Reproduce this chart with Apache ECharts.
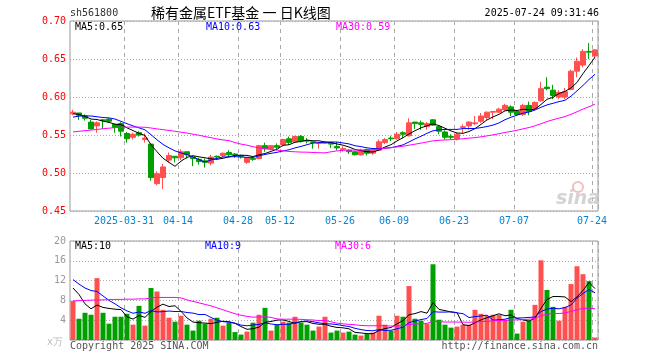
<!DOCTYPE html>
<html><head><meta charset="utf-8">
<script src="https://cdn.jsdelivr.net/npm/echarts@6/dist/echarts.min.js"></script>
<style>html,body{margin:0;padding:0;background:#fff}#c{width:660px;height:360px}</style>
</head><body><div id="c"></div>
<script>
const dates = [
'2025-03-18','2025-03-19','2025-03-20','2025-03-21','2025-03-24','2025-03-25','2025-03-26','2025-03-27','2025-03-28','2025-03-31',
'2025-04-01','2025-04-02','2025-04-03','2025-04-07','2025-04-08','2025-04-09','2025-04-10','2025-04-11','2025-04-14','2025-04-15',
'2025-04-16','2025-04-17','2025-04-18','2025-04-21','2025-04-22','2025-04-23','2025-04-24','2025-04-25','2025-04-28','2025-04-29',
'2025-04-30','2025-05-06','2025-05-07','2025-05-08','2025-05-09','2025-05-12','2025-05-13','2025-05-14','2025-05-15','2025-05-16',
'2025-05-19','2025-05-20','2025-05-21','2025-05-22','2025-05-23','2025-05-26','2025-05-27','2025-05-28','2025-05-29','2025-05-30',
'2025-06-03','2025-06-04','2025-06-05','2025-06-06','2025-06-09','2025-06-10','2025-06-11','2025-06-12','2025-06-13','2025-06-16',
'2025-06-17','2025-06-18','2025-06-19','2025-06-20','2025-06-23','2025-06-24','2025-06-25','2025-06-26','2025-06-27','2025-06-30',
'2025-07-01','2025-07-02','2025-07-03','2025-07-04','2025-07-07','2025-07-08','2025-07-09','2025-07-10','2025-07-11','2025-07-14',
'2025-07-15','2025-07-16','2025-07-17','2025-07-18','2025-07-21','2025-07-22','2025-07-23','2025-07-24'];

const opens = [
0.578,0.579,0.575,0.567,0.562,0.570,0.571,0.564,0.565,0.552,
0.547,0.553,0.544,0.538,0.486,0.494,0.517,0.522,0.520,0.528,
0.521,0.518,0.516,0.513,0.522,0.523,0.527,0.525,0.523,0.514,
0.519,0.519,0.536,0.532,0.536,0.537,0.545,0.541,0.548,0.543,
0.541,0.539,0.539,0.540,0.535,0.531,0.530,0.528,0.524,0.531,
0.526,0.530,0.540,0.546,0.545,0.553,0.549,0.567,0.566,0.561,
0.570,0.561,0.554,0.548,0.545,0.560,0.562,0.565,0.568,0.573,
0.580,0.580,0.583,0.587,0.581,0.577,0.589,0.585,0.595,0.613,
0.609,0.600,0.600,0.610,0.634,0.642,0.660,0.654];
const closes = [
0.580,0.576,0.572,0.558,0.566,0.569,0.568,0.560,0.555,0.545,
0.551,0.550,0.546,0.494,0.499,0.508,0.523,0.520,0.528,0.524,
0.519,0.515,0.514,0.521,0.521,0.526,0.524,0.524,0.522,0.520,
0.518,0.536,0.532,0.536,0.534,0.544,0.540,0.548,0.542,0.542,
0.540,0.540,0.540,0.538,0.533,0.532,0.528,0.524,0.530,0.526,
0.530,0.541,0.544,0.545,0.551,0.551,0.566,0.565,0.564,0.565,
0.563,0.555,0.547,0.547,0.551,0.561,0.567,0.566,0.575,0.580,
0.581,0.584,0.589,0.580,0.577,0.589,0.581,0.593,0.611,0.611,
0.602,0.606,0.607,0.634,0.647,0.660,0.659,0.662];
const highs = [
0.583,0.579,0.577,0.570,0.568,0.571,0.572,0.565,0.567,0.554,
0.553,0.555,0.552,0.539,0.502,0.512,0.527,0.522,0.531,0.528,
0.522,0.520,0.519,0.524,0.523,0.527,0.530,0.526,0.524,0.521,
0.520,0.537,0.540,0.537,0.539,0.545,0.548,0.549,0.550,0.546,
0.541,0.541,0.542,0.541,0.541,0.535,0.531,0.529,0.532,0.532,
0.531,0.544,0.546,0.549,0.554,0.555,0.572,0.567,0.569,0.567,
0.571,0.562,0.556,0.551,0.553,0.564,0.568,0.575,0.579,0.581,
0.581,0.586,0.591,0.589,0.582,0.591,0.594,0.594,0.620,0.626,
0.616,0.609,0.612,0.636,0.652,0.663,0.671,0.663];
const lows = [
0.576,0.570,0.569,0.558,0.553,0.558,0.566,0.553,0.548,0.540,
0.544,0.548,0.540,0.490,0.484,0.479,0.514,0.514,0.517,0.519,
0.509,0.511,0.507,0.510,0.518,0.521,0.521,0.520,0.519,0.512,
0.516,0.518,0.528,0.530,0.531,0.535,0.537,0.540,0.540,0.539,
0.532,0.532,0.538,0.533,0.530,0.528,0.525,0.523,0.523,0.523,
0.524,0.529,0.538,0.542,0.544,0.546,0.548,0.558,0.557,0.557,
0.562,0.551,0.544,0.544,0.543,0.553,0.557,0.563,0.566,0.570,
0.571,0.579,0.582,0.575,0.575,0.575,0.576,0.583,0.594,0.609,
0.597,0.597,0.597,0.609,0.626,0.639,0.650,0.651];
// volume in 万
const volumes = [
7.9,4.3,5.5,5.1,12.5,5.5,3.3,4.7,4.7,5.3,
3.1,6.9,2.9,10.5,9.8,6.1,4.5,3.7,4.9,3.1,
1.9,3.9,3.3,4.3,4.5,2.9,3.5,1.6,1.1,1.7,
3.5,5.1,6.5,1.9,3.1,3.7,3.5,4.7,3.5,3.1,
1.9,2.7,4.7,1.5,1.9,1.5,1.7,1.1,0.9,1.2,
1.5,4.9,3.1,1.9,4.9,4.7,10.9,4.3,3.9,3.3,
15.3,4.1,3.1,2.5,2.7,3.1,3.1,6.1,5.3,4.9,
5.1,5.1,4.1,6.1,1.3,3.7,3.9,7.1,16.1,10.1,
6.7,3.9,6.7,11.3,14.9,13.3,11.9,0.5];

// moving-average values at the left edge (history before the window)
const ma5Head = [0.578,0.577,0.5745,0.571];
const ma10Head = [0.5735,0.5748,0.5752,0.575,0.574,0.573,0.5725,0.571,0.568];
const ma30Head = [0.554,0.5549,0.5557,0.5565,0.5573,0.5582,0.559,0.5597,0.5602,0.5604,
0.5604,0.5604,0.5602,0.5592,0.558,0.557,0.556,0.5549,0.5537,0.5525,
0.551,0.5497,0.548,0.5465,0.5448,0.5435,0.5426,0.540,0.538];
const vma5Head = [10.5,9.2,7.3,6.3];
const vma10Head = [12.2,11.3,10.5,10.0,9.8,8.9,8.0,7.3,6.5];
const vma30Head = [7.9,7.95,8.0,8.05,8.1,8.1,8.15,8.2,8.2,8.25,
8.25,8.3,8.3,8.5,8.6,8.6,8.6,8.6,8.5,8.1,
7.8,7.5,7.2,6.9,6.5,6.1,5.7,5.3,5.0];

const tickDates = ['2025-03-31','2025-04-14','2025-04-28','2025-05-12','2025-05-26','2025-06-09','2025-06-23','2025-07-07','2025-07-24'];
const tickLabels = ['2025-03-31','04-14','04-28','05-12','05-26','06-09','06-23','07-07','07-24'];

function movingAvg(vals, n, head, dp) {
  return vals.map((v, i) => {
    if (i < head.length) return head[i];
    let s = 0; for (let k = i - n + 1; k <= i; k++) s += vals[k];
    return +(s / n).toFixed(dp);
  });
}
const ma5 = movingAvg(closes, 5, ma5Head, 4);
const ma10 = movingAvg(closes, 10, ma10Head, 4);
const ma30 = movingAvg(closes, 30, ma30Head, 4);
const vma5 = movingAvg(volumes, 5, vma5Head, 2);
const vma10 = movingAvg(volumes, 10, vma10Head, 2);
const vma30 = movingAvg(volumes, 30, vma30Head, 2);

const UP = '#ff5050', DOWN = '#00a000';
const MONO = "'DejaVu Sans Mono', monospace";
const tickIdx = new Set(tickDates.map(d => dates.indexOf(d)));
const tickMap = {}; tickDates.forEach((d, i) => tickMap[d] = tickLabels[i]);

const kData = dates.map((d, i) => [opens[i], closes[i], lows[i], highs[i]]);
const vData = volumes.map((v, i) => ({ value: v, itemStyle: { color: closes[i] >= opens[i] ? UP : DOWN } }));

const chart = echarts.init(document.getElementById('c'), null, { renderer: 'canvas' });
const vSplit = { show: true, interval: (i) => tickIdx.has(i), lineStyle: { color: '#aaa', type: [4, 4], width: 1 } };
const hSplit = { show: true, lineStyle: { color: '#aaa', type: [1, 2], width: 1 } };
function txt(x, y, text, color, align) {
  return { type: 'text', x: x, y: y, z: 100, style: { text: text, fill: color, font: '10px ' + MONO, align: align || 'left', verticalAlign: 'middle' } };
}
const line = (name, data, color, xi) => ({ name, type: 'line', data, xAxisIndex: xi, yAxisIndex: xi, symbol: 'none', z: 5,
  lineStyle: { color, width: 1 }, itemStyle: { color }, animation: false });

chart.setOption({
  animation: false,
  backgroundColor: '#fff',
  grid: [
    { left: 70, top: 21, width: 528, height: 190, show: true, borderColor: '#999', borderWidth: 1 },
    { left: 70, top: 241, width: 528, height: 99, show: true, borderColor: '#999', borderWidth: 1 }
  ],
  xAxis: [
    { type: 'category', gridIndex: 0, data: dates, boundaryGap: true,
      axisLine: { show: false }, axisTick: { show: false },
      axisLabel: { interval: (i) => tickIdx.has(i), formatter: (v) => tickMap[v] || '', color: '#0a84d0',
        fontFamily: MONO, fontSize: 10, margin: 5, padding: [0, 6, 0, 0] },
      splitLine: vSplit },
    { type: 'category', gridIndex: 1, data: dates, boundaryGap: true,
      axisLine: { show: false }, axisTick: { show: false }, axisLabel: { show: false },
      splitLine: vSplit }
  ],
  yAxis: [
    { type: 'value', gridIndex: 0, min: 0.45, max: 0.70, interval: 0.05, scale: true,
      axisLine: { show: false }, axisTick: { show: false },
      axisLabel: { color: '#ff0000', fontFamily: MONO, fontSize: 10, margin: 4, formatter: (v) => v.toFixed(2) },
      splitLine: hSplit },
    { type: 'value', gridIndex: 1, min: 0, max: 20, interval: 4,
      axisLine: { show: false }, axisTick: { show: false },
      axisLabel: { color: '#999', fontFamily: MONO, fontSize: 10, margin: 4,
        formatter: (v) => v === 0 ? '{u|x万}' : String(v),
        rich: { u: { color: '#bbb', fontFamily: MONO, fontSize: 10, padding: [4, 3, 0, 0] } } },
      splitLine: hSplit }
  ],
  series: [
    { name: 'K', type: 'candlestick', xAxisIndex: 0, yAxisIndex: 0, data: kData, barWidth: 5, z: 3,
      itemStyle: { color: UP, color0: DOWN, borderColor: UP, borderColor0: DOWN, borderWidth: 1 } },
    line('MA5', ma5, '#000000', 0),
    line('MA10', ma10, '#0000ff', 0),
    line('MA30', ma30, '#ff00ff', 0),
    { name: 'VOL', type: 'bar', xAxisIndex: 1, yAxisIndex: 1, data: vData, barWidth: 5, z: 3 },
    line('VMA5', vma5, '#000000', 1),
    line('VMA10', vma10, '#0000ff', 1),
    line('VMA30', vma30, '#ff00ff', 1)
  ],
  graphic: [
    txt(70, 13, 'sh561800', '#333'),
    { type: 'text', x: 151, y: 13, z: 100, style: { text: '稀有金属ETF基金 一 日K线图', fill: '#000',
      font: "14px 'Noto Sans CJK SC'", verticalAlign: 'middle' } },
    txt(599, 13, '2025-07-24 09:31:46', '#000', 'right'),
    txt(75, 27, 'MA5:0.65', '#000'),
    txt(206, 27, 'MA10:0.63', '#0000ff'),
    txt(336, 27, 'MA30:0.59', '#ff00ff'),
    txt(75, 246, 'MA5:10', '#000'),
    txt(205, 246, 'MA10:9', '#0000ff'),
    txt(335, 246, 'MA30:6', '#ff00ff'),
    txt(70, 346, 'Copyright 2025 SINA.COM', '#555'),
    txt(598, 346, 'http://finance.sina.com.cn', '#555', 'right'),
    { type: 'circle', shape: { cx: 578, cy: 187, r: 5 }, z: 1, style: { fill: 'none', stroke: '#f4a0a0', lineWidth: 2, opacity: 0.7 } },
    { type: 'text', x: 556, y: 199, z: 1, style: { text: 'sina', fill: '#c8c8c8', font: "italic bold 19px 'DejaVu Sans'", verticalAlign: 'middle', opacity: 0.8 } }
  ]
});
</script>
</body></html>
